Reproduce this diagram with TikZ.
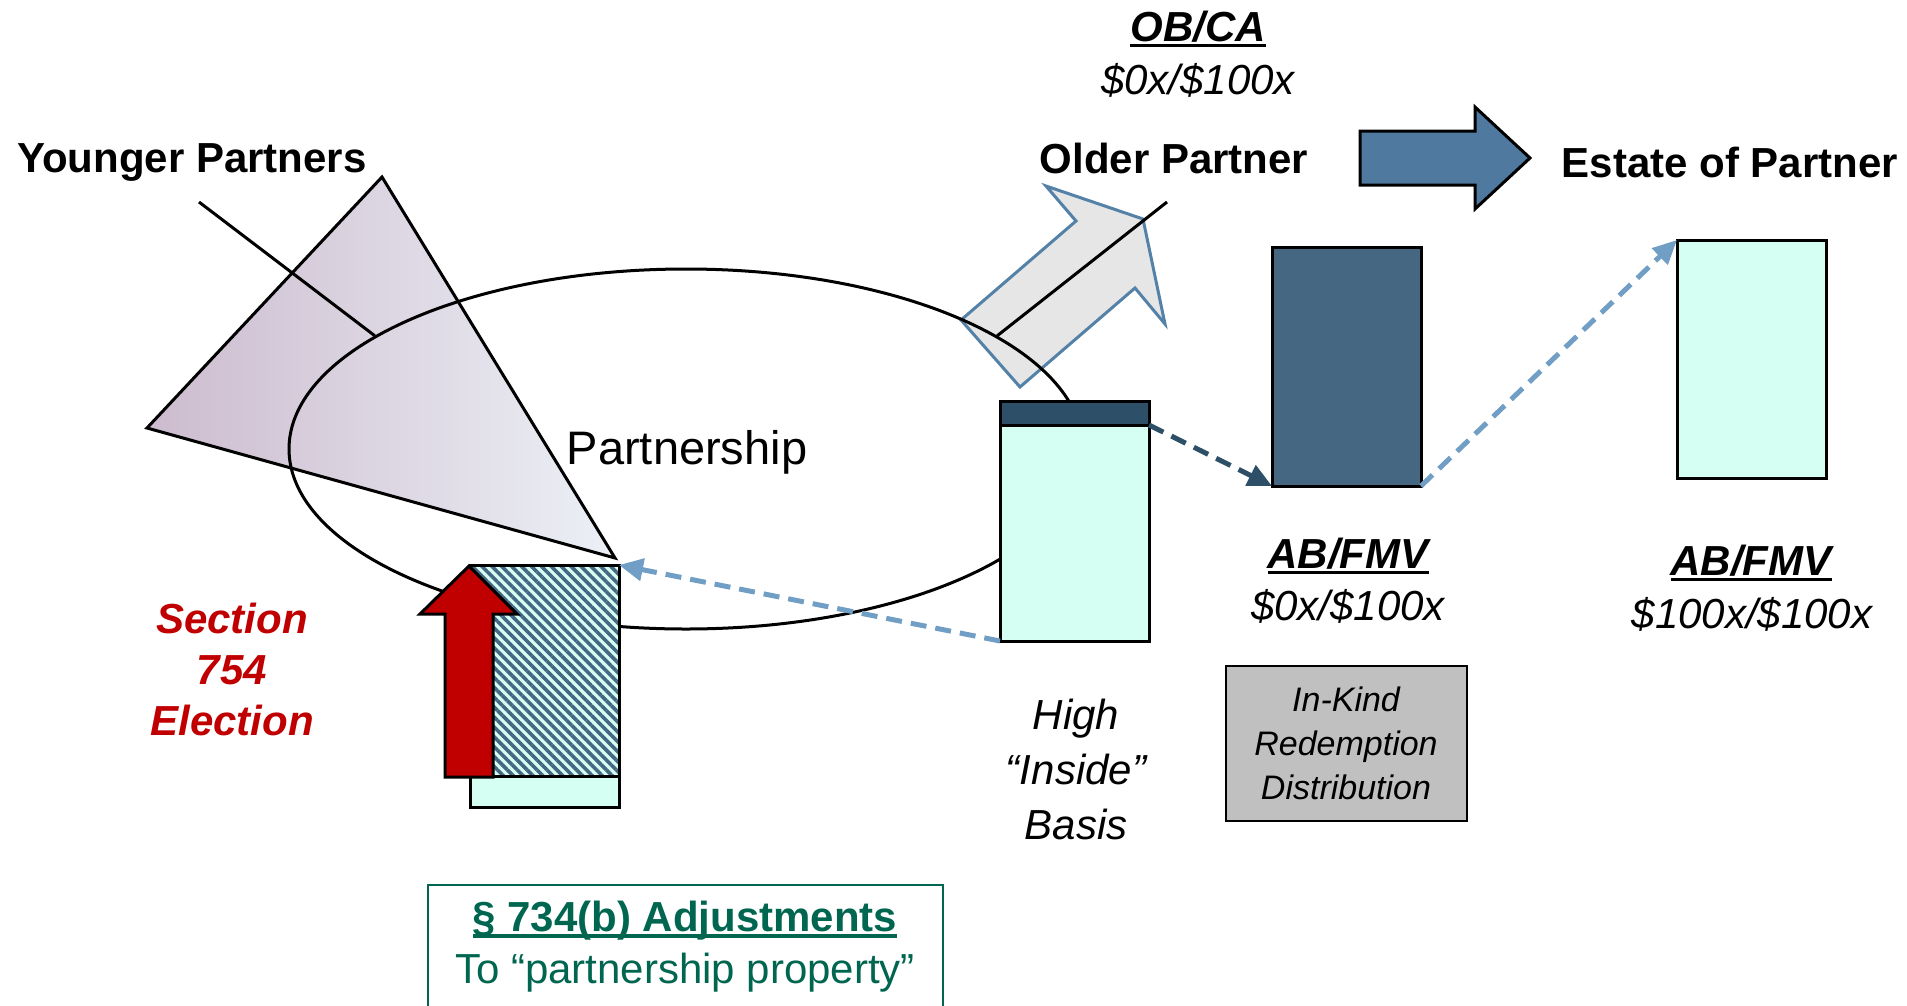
\documentclass[tikz,border=0pt]{standalone}
\usepackage{fontspec}
\setmainfont{Liberation Sans}
\usetikzlibrary{arrows.meta,patterns.meta,shapes.geometric}

\definecolor{cyanlight}{RGB}{214,255,244}
\definecolor{bluedark}{RGB}{69,103,130}
\definecolor{bluedeep}{RGB}{46,79,104}
\definecolor{bluemid}{RGB}{79,121,158}
\definecolor{bluelight}{RGB}{112,158,196}
\definecolor{arrowedge}{RGB}{84,129,168}
\definecolor{arrowfill}{RGB}{230,230,230}
\definecolor{redsec}{RGB}{192,0,0}
\definecolor{greenbox}{RGB}{0,102,80}
\definecolor{graybox}{RGB}{192,192,192}
\definecolor{trileft}{RGB}{204,187,206}
\definecolor{triright}{RGB}{236,240,246}

\newcommand{\undl}[1]{\setbox0\hbox{#1}\rlap{\rule[-6pt]{\wd0}{3.5pt}}\box0}

\begin{document}
\begin{tikzpicture}[x=1pt,y=-1pt]
	\tikzstyle{label_bold} = [font=\fontsize{42}{50}\selectfont\bfseries, inner sep=0pt]
	\tikzstyle{label_it} = [font=\fontsize{42}{50}\selectfont\itshape, inner sep=0pt]
	\tikzstyle{label_head} = [font=\fontsize{42}{50}\selectfont\bfseries\itshape, inner sep=0pt]
	\tikzstyle{box_light} = [draw=black, line width=3pt, fill=cyanlight, inner sep=0pt, outer sep=0pt, anchor=north west]
	\tikzstyle{box_dark} = [box_light, fill=bluedark]
	\tikzstyle{box_band} = [box_light, fill=bluedeep]
	\tikzstyle{box_hatch} = [box_light, preaction={fill=cyanlight}, pattern={Lines[angle=-45,distance=7pt,line width=3.6pt]}, pattern color=bluedark]
	\tikzstyle{link_dark} = [line width=5pt, dash pattern=on 16pt off 9pt, draw=bluedeep, -{Triangle[length=24pt,width=22pt]}]
	\tikzstyle{link_light} = [link_dark, draw=bluelight]

	\useasboundingbox (0,0) rectangle (1907,1005);
	\clip (0,0) rectangle (1907,1005);

%------------------------------------------------------------
	% younger partners and older partner
	\draw[line width=3pt, left color=trileft, right color=triright] (382,177) -- (147,428) -- (615,558) -- cycle;
	\draw[line width=3pt, draw=arrowedge, fill=arrowfill] (961,320) -- (1076,221) -- (1046,186) -- (1143,219) -- (1165,324) -- (1135,288) -- (1020,387) -- cycle;

	\node[draw, ellipse, line width=3pt, minimum width=794pt, minimum height=360pt, inner sep=0pt] (pship) at (686,449) {};
	\node[font=\fontsize{47}{56}\selectfont, inner sep=0pt] (pship_label) at (687,452) {Partnership};

	\coordinate (young_end) at (199,202);
	\coordinate (older_end) at (1167,202);
	\draw[line width=3pt] (young_end) -- (pship.160.4);
	\draw[line width=3pt] (older_end) -- (pship.20.4);

%------------------------------------------------------------
	% boxes
	\node[box_light, minimum width=149pt, minimum height=240pt] (box_high) at (1000,401) {};
	\node[box_band, minimum width=149pt, minimum height=24pt] (band_high) at (1000,401) {};
	\node[box_dark, minimum width=149pt, minimum height=239pt] (box_pdist) at (1272,247) {};
	\node[box_light, minimum width=149pt, minimum height=238pt] (box_estate) at (1677,240) {};
	\node[box_light, minimum width=149pt, minimum height=242pt] (box_adj) at (470,565) {};
	\node[box_hatch, minimum width=149pt, minimum height=211pt] (hatch_adj) at (470,565) {};

	\draw[line width=3pt, fill=redsec] (469,566) -- (517,614) -- (493,614) -- (493,777) -- (445,777) -- (445,614) -- (420,614) -- cycle;
	\draw[line width=3pt, fill=bluemid] (1360,131) -- (1475,131) -- (1475,107) -- (1530,158) -- (1475,209) -- (1475,185) -- (1360,185) -- cycle;

	\draw[link_dark] (band_high.south east) -- (box_pdist.south west);
	\draw[link_light] (box_pdist.south east) -- (box_estate.north west);
	\draw[link_light] (box_high.south west) -- (box_adj.north east);

%------------------------------------------------------------
	% labels
	\node[label_bold] (younger) at (192,162) {Younger Partners};
	\node[label_bold] (older) at (1174,158) {Older Partner};
	\node[label_bold] (estate) at (1730,162) {Estate of Partner};

	\node[label_head] (obca_head) at (1198,29) {\undl{OB/CA}};
	\node[label_it] (obca_val) at (1198,80) {\$0x/\$100x};

	\node[label_head] (abfmv_head) at (1348,556) {\undl{AB/FMV}};
	\node[label_it] (abfmv_val) at (1348,606) {\$0x/\$100x};
	\node[label_head] (estate_head) at (1751,563) {\undl{AB/FMV}};
	\node[label_it] (estate_val) at (1752,614) {\$100x/\$100x};

	\node[label_head, text=redsec, align=center, font=\fontsize{42}{51}\selectfont\bfseries\itshape] (sec754) at (232,669) {Section\\754\\Election};
	\node[label_it, align=center, font=\fontsize{42}{55}\selectfont\itshape] (high_basis) at (1076,769) {High\\“Inside”\\Basis};

	\node[draw, line width=2pt, fill=graybox, minimum width=241pt, minimum height=155pt, inner sep=0pt, align=center, font=\fontsize{34}{44}\selectfont\itshape] (inkind) at (1346,743) {In-Kind\\Redemption\\Distribution};

%------------------------------------------------------------
	% bottom box
	\node[draw=greenbox, line width=2pt, minimum width=515pt, minimum height=150pt, anchor=north, inner sep=0pt] (box734) at (685,884) {};
	\node[label_bold, text=greenbox] (adj_head) at (685,921) {\undl{§ 734(b) Adjustments}};
	\node[font=\fontsize{42}{50}\selectfont, text=greenbox, inner sep=0pt] (adj_text) at (685,973) {To “partnership property”};
\end{tikzpicture}
\end{document}
